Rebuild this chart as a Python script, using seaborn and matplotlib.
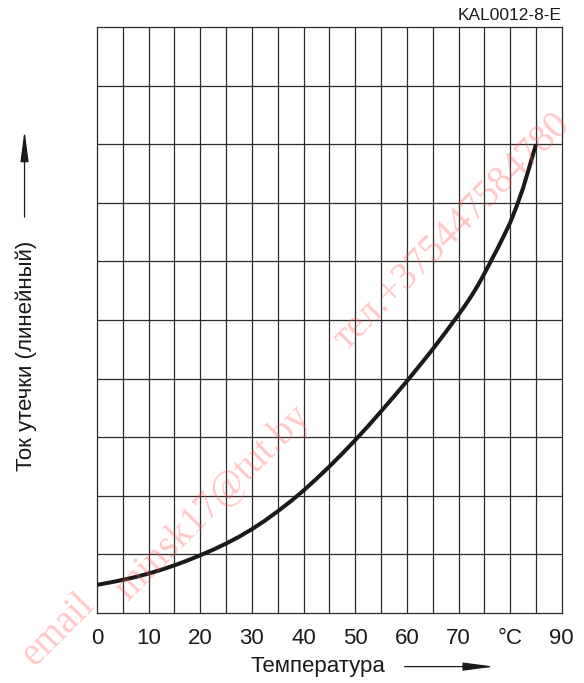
import numpy as np
import pandas as pd
import matplotlib
matplotlib.use("Agg")
import matplotlib.pyplot as plt
from matplotlib.patches import FancyArrowPatch
import seaborn as sns

# Leakage current vs. temperature (linear scale, arbitrary units)
temperature = [0, 2.5, 5, 7.5, 10, 12.5, 15, 17.5, 20, 22.5, 25, 27.5, 30, 32.5, 35,
               37.5, 40, 42.5, 45, 47.5, 50, 52.5, 55, 57.5, 60, 62.5, 65, 67.5, 70,
               71.25, 72.5, 73.75, 75, 76.25, 77.5, 78.75, 80, 81.25, 82.5, 83.75, 85]
leakage = [0.48, 0.52, 0.565, 0.615, 0.673, 0.739, 0.813, 0.895, 0.985, 1.08, 1.185,
           1.30, 1.43, 1.575, 1.735, 1.905, 2.09, 2.29, 2.50, 2.72, 2.95, 3.19, 3.44,
           3.695, 3.955, 4.225, 4.50, 4.79, 5.09, 5.245, 5.41, 5.59, 5.79, 6.0, 6.21,
           6.43, 6.66, 6.94, 7.25, 7.62, 8.0]
x_ticks = [0, 10, 20, 30, 40, 50, 60, 70, 80, 90]
x_tick_labels = ["0", "10", "20", "30", "40", "50", "60", "70", "°C", "90"]

sns.set_theme(style="white")
plt.rcParams["font.family"] = ["Liberation Sans", "DejaVu Sans"]

fig = plt.figure(figsize=(5.84, 6.83), dpi=100)
ax = fig.add_axes([0.166, 0.1025, 0.796, 0.858])

df = pd.DataFrame({"t": temperature, "i": leakage})
sns.lineplot(data=df, x="t", y="i", ax=ax, color="#1a1a1a", linewidth=2.9,
             solid_capstyle="butt", solid_joinstyle="round", zorder=3)

ax.set_xlim(0, 90)
ax.set_ylim(0, 10)
for xv in np.arange(5, 90, 5):
    ax.axvline(xv, color="#2a2a2a", linewidth=0.9, zorder=1)
for yv in np.arange(1, 10, 1):
    ax.axhline(yv, color="#2a2a2a", linewidth=0.9, zorder=1)
for s in ax.spines.values():
    s.set_color("#2a2a2a")
    s.set_linewidth(0.9)

ax.set_xticks(x_ticks)
ax.set_xticklabels(x_tick_labels, fontsize=16, color="#1a1a1a")
ax.set_yticks([])
ax.tick_params(axis="x", length=0, pad=11)
ax.set_xlabel("")
ax.set_ylabel("")

# axis captions with arrows
fig.text(0.545, 0.024, "Температура", ha="center", va="center", fontsize=16, color="#1a1a1a")
fig.add_artist(FancyArrowPatch(
    (0.688, 0.024), (0.851, 0.024), transform=fig.transFigure,
    arrowstyle="-|>,head_length=1.9,head_width=0.25", mutation_scale=10,
    color="#1a1a1a", linewidth=0.9))

fig.text(0.045, 0.479, "Ток утечки (линейный)", ha="center", va="center",
         rotation=90, fontsize=16, color="#1a1a1a")
fig.add_artist(FancyArrowPatch(
    (0.042, 0.678), (0.042, 0.813), transform=fig.transFigure,
    arrowstyle="-|>,head_length=1.9,head_width=0.25", mutation_scale=10,
    color="#1a1a1a", linewidth=0.9))

fig.text(0.962, 0.977, "KAL0012-8-E", ha="right", va="center", fontsize=12.5, color="#1a1a1a")

# diagonal watermark
wm_font = dict(rotation=45, rotation_mode="anchor", ha="center", va="center",
               family=["Liberation Serif", "DejaVu Serif"], color="#ff5a5a",
               alpha=0.33, zorder=10)
fig.text(58 / 584, 1 - 630 / 683, "email", fontsize=28, **wm_font)
fig.text(213 / 584, 1 - 503 / 683, "minsk17@tut.by", fontsize=28, **wm_font)
fig.text(452 / 584, 1 - 232 / 683, "тел.+375447584780", fontsize=28, **wm_font)

fig.savefig("out.png", dpi=100)
